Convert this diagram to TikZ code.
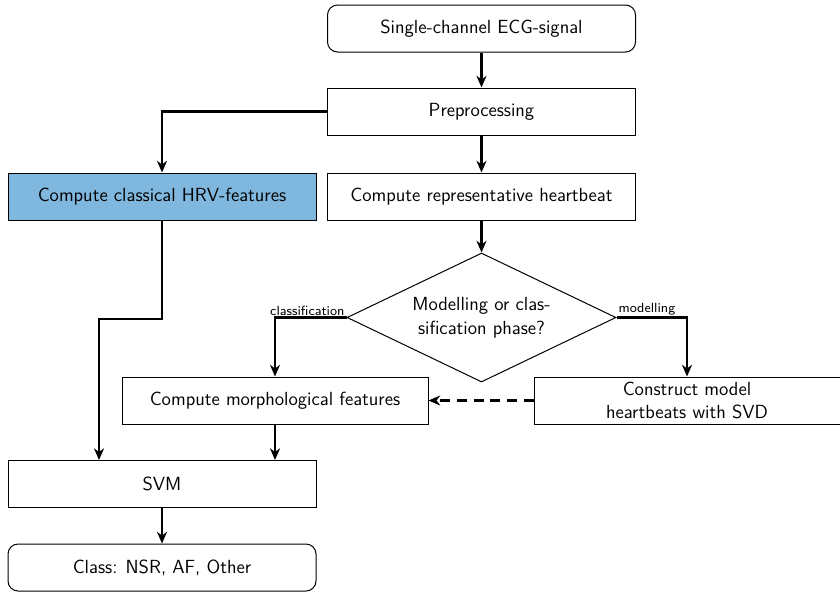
\documentclass[tikz,border=0pt]{standalone}
\usetikzlibrary{arrows.meta,shapes.geometric}
\definecolor{hrvblue}{RGB}{127,183,222}
\begin{document}
\begin{tikzpicture}[x=0.6pt,y=-0.6pt,
  box/.style={draw, line width=0.6pt, minimum width=184.8pt, minimum height=28.2pt, inner sep=2pt, font=\sffamily\fontsize{11.4}{14.2}\selectfont, align=center},
  rbox/.style={box, rounded corners=6pt},
  arr/.style={line width=1.3pt, -{Stealth[length=7pt,width=6pt,inset=2.2pt]}},
  lbl/.style={font=\sffamily\footnotesize, inner sep=1pt}]
\useasboundingbox (0,0) rectangle (840,591);
\node[rbox] (start) at (481.5,28.5) {Single-channel ECG-signal};
\node[box] (pre) at (481.5,111.5) {Preprocessing};
\node[box, fill=hrvblue] (hrv) at (162,196.5) {Compute classical HRV-features};
\node[box] (rep) at (481.5,196.5) {Compute representative heartbeat};
\node[draw, diamond, line width=0.6pt, minimum width=161.4pt, minimum height=77.4pt, inner sep=0pt, aspect=2.085, align=center, font=\sffamily\fontsize{11.4}{14.2}\selectfont] (dec) at (481.5,317.5) {Modelling or clas-\\sification phase?};
\node[box, minimum width=183.6pt] (morph) at (275,400.5) {Compute morphological features};
\node[box, minimum width=183.6pt] (cons) at (687,400.5) {Construct model\\heartbeats with SVD};
\node[box] (svm) at (162,484) {SVM};
\node[rbox] (cls) at (162,567.5) {Class: NSR, AF, Other};
\node[lbl, anchor=south east] (lcl) at (dec.west) {classification};
\node[lbl, anchor=south west] (lmo) at (dec.east) {modelling};
\coordinate (bend) at (99,319);
\draw[arr] (start) -- (pre);
\draw[arr] (pre.west) -| (hrv.north);
\draw[arr] (pre) -- (rep);
\draw[arr] (rep) -- (dec);
\draw[arr] (dec.west) -| (morph.north);
\draw[arr] (dec.east) -| (cons.north);
\draw[arr, dash pattern=on 6pt off 4pt] (cons) -- (morph);
\draw[arr] (hrv.south) |- (bend) -- (bend |- svm.north);
\draw[arr] (morph.south) -- (morph.south |- svm.north);
\draw[arr] (svm) -- (cls);
\end{tikzpicture}
\end{document}
